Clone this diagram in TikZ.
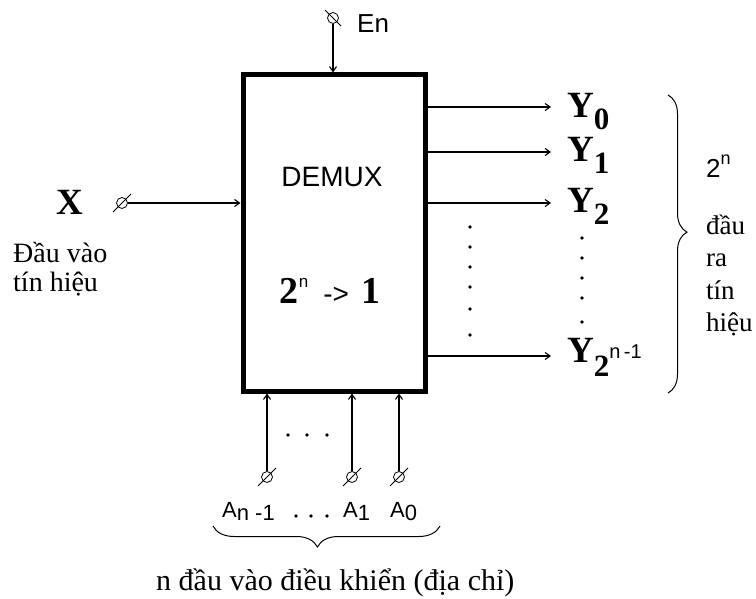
\documentclass[tikz,border=0pt]{standalone}
\usepackage{fontspec}
\setmainfont{Liberation Serif}
\setsansfont{Liberation Sans}
\usetikzlibrary{arrows.meta, decorations.pathreplacing}
\newcommand{\outlabel}[1]{Y\raisebox{-12pt}{\fontsize{31}{31}\selectfont #1}}
\newcommand{\addrlabel}[1]{A\raisebox{-3pt}{#1}}

\begin{document}
\begin{tikzpicture}[x=1pt, y=-1pt,
    box/.style={draw, line width=5pt, minimum width=182pt, minimum height=316pt, inner sep=0pt},
    term/.style={draw, circle, line width=0.8pt, minimum size=11pt, inner sep=0pt},
    arrow/.style={-{Straight Barb[length=5pt, width=7pt]}, line width=1.1pt},
    big/.style={font=\fontsize{37}{40}\selectfont\bfseries, inner sep=0pt},
    viet/.style={font=\fontsize{28}{32}\selectfont, inner sep=0pt},
    addr/.style={font=\fontsize{22}{24}\selectfont\sffamily, inner sep=0pt},
    pip/.style={circle, fill, inner sep=0pt, minimum size=3.8pt},
    curly/.style={decorate, line width=1pt},
]
\useasboundingbox (0,0) rectangle (756,599);

% Block
\node[box] (demux) at (334,233) {};
\node[font=\fontsize{28}{30}\selectfont\sffamily, anchor=base, inner sep=0pt] (title) at (332,187) {DEMUX};
\node[anchor=base, inner sep=0pt] (ratio) at (330,303) {{\bfseries\fontsize{38}{40}\selectfont 2}\raisebox{16pt}{\sffamily\fontsize{17}{17}\selectfont n}\hspace{15pt}{\sffamily\fontsize{28}{30}\selectfont ->}\hspace{12pt}{\bfseries\fontsize{38}{40}\selectfont 1}};

% Terminals
\node[term] (tEn) at (333,18) {};
\node[term] (tX) at (122,203) {};
\node[term] (tAn) at (267,477) {};
\node[term] (tA1) at (352,477) {};
\node[term] (tA0) at (399,477) {};
\draw[line width=0.8pt] ([shift={(-8,-8)}]tEn.center) -- ([shift={(8,8)}]tEn.center);
\foreach \t in {tX, tAn, tA1, tA0}
  \draw[line width=0.8pt] ([shift={(-9,9)}]\t.center) -- ([shift={(9,-9)}]\t.center);

% Inputs
\draw[arrow] (tEn) -- (tEn |- demux.north);
\draw[arrow] (tX) -- (tX -| demux.west);
\foreach \t in {tAn, tA1, tA0}
  \draw[arrow] (\t) -- (\t |- demux.south);

% Outputs
\coordinate (o0) at (551,107);
\coordinate (o1) at (551,152);
\coordinate (o2) at (551,203);
\coordinate (o3) at (551,356);
\foreach \o in {o0, o1, o2, o3}
  \draw[arrow] (demux.east |- \o) -- (\o);

% Labels
\node[big, anchor=base west] (x) at (56,215) {X};
\node[big, anchor=base west] (y0) at (567,118) {\outlabel{0}};
\node[big, anchor=base west] (y1) at (567,162) {\outlabel{1}};
\node[big, anchor=base west] (y2) at (567,213) {\outlabel{2}};
\node[big, anchor=base west] (yN) at (567,362) {Y\raisebox{-14pt}{\fontsize{31}{31}\selectfont 2}\raisebox{4pt}{\mdseries\sffamily\fontsize{20}{20}\selectfont n\,-1}};
\node[addr, font=\fontsize{26}{28}\selectfont\sffamily, anchor=base west] (en) at (357,33) {En};
\node[addr, anchor=base west] (an) at (222,517) {\addrlabel{n\ -1}};
\node[addr, anchor=base west] (a1) at (343,517) {\addrlabel{1}};
\node[addr, anchor=base west] (a0) at (390,517) {\addrlabel{0}};

% Dots
\foreach \y [count=\i] in {227,247,267,287,309,335}
  \node[pip] (da\i) at (470,\y) {};
\foreach \y [count=\i] in {238,258,278,298,322}
  \node[pip] (db\i) at (582,\y) {};
\foreach \x [count=\i] in {288,307,327}
  \node[pip] (dc\i) at (\x,435) {};
\foreach \x [count=\i] in {296,311,327}
  \node[pip] (dd\i) at (\x,516) {};

% Notes
\node[viet, anchor=base west] (in1) at (13,262) {Đầu vào};
\node[viet, anchor=base west] (in2) at (13,291) {tín hiệu};
\node[anchor=base west, inner sep=0pt] (cnt) at (706,178) {\sffamily\fontsize{26}{28}\selectfont 2\raisebox{13pt}{\fontsize{18}{18}\selectfont n}};
\foreach \w [count=\i] in {đầu, ra, tín, hiệu}
  \node[viet, font=\fontsize{27}{32}\selectfont, anchor=base west] (out\i) at (706,203+32*\i) {\w};
\node[viet, font=\fontsize{30}{34}\selectfont, anchor=base west] (sel) at (156,590) {n đầu vào điều khiển (địa chỉ)};

% Braces
\draw[curly, decoration={brace, amplitude=19pt, aspect=0.46}] (668,95) -- (668,393);
\draw[curly, decoration={brace, amplitude=21pt, aspect=0.54}] (440,526) -- (213,526);
\end{tikzpicture}
\end{document}
